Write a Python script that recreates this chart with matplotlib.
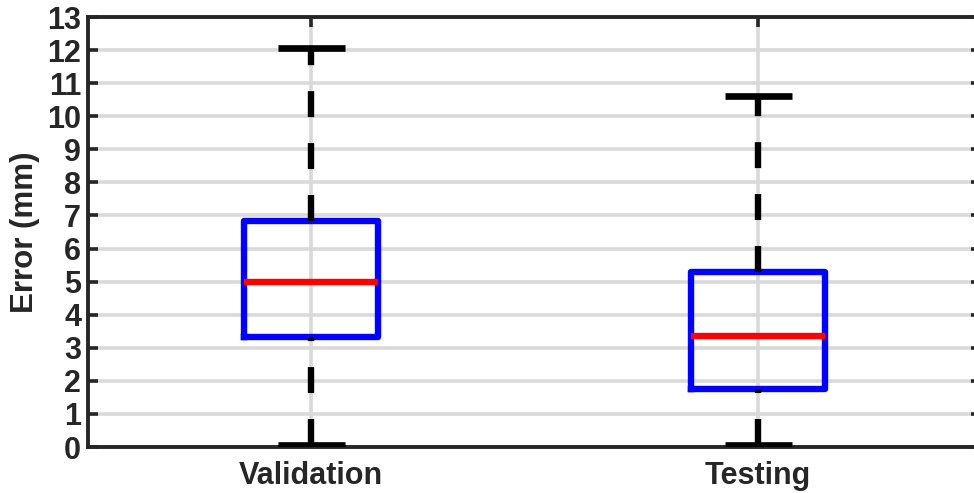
import matplotlib.pyplot as plt

# Error statistics (mm) for each data split
groups = ['Validation', 'Testing']
q1 = [3.33, 1.75]
medians = [4.99, 3.36]
q3 = [6.83, 5.29]
whisker_low = [0.06, 0.06]
whisker_high = [12.06, 10.62]
yticks = list(range(0, 14))

plt.rcParams['font.family'] = ['Liberation Sans', 'DejaVu Sans']
plt.rcParams['font.weight'] = 'bold'
plt.rcParams['lines.scale_dashes'] = False

dark = '#262626'
fig = plt.figure(figsize=(9.74, 4.93), dpi=100)
ax = fig.add_axes([0.0903, 0.0933, 0.9173, 0.8722])

stats = []
for i, name in enumerate(groups):
    stats.append({'label': name, 'q1': q1[i], 'med': medians[i], 'q3': q3[i],
                  'whislo': whisker_low[i], 'whishi': whisker_high[i], 'fliers': []})

bp = ax.bxp(stats, positions=[1, 2], widths=0.3, showfliers=False,
            boxprops=dict(color='#0000ff', linewidth=4.6),
            medianprops=dict(color='#ff0000', linewidth=4.6, solid_capstyle='butt'),
            whiskerprops=dict(color='black', linewidth=4.6, linestyle=(0, (18.7, 18.7))),
            capprops=dict(color='black', linewidth=4.8, solid_capstyle='butt'),
            capwidths=0.15, zorder=3)

# lower whiskers are dashed from the cap up to the box
for k in range(0, len(bp['whiskers']), 2):
    w = bp['whiskers'][k]
    w.set_ydata(list(w.get_ydata())[::-1])
    w.set_xdata(list(w.get_xdata())[::-1])

ax.set_xlim(0.5, 2.5)
ax.set_ylim(0, 13)
ax.set_yticks(yticks)
ax.set_xticks([1, 2])
ax.set_xticklabels(groups)
ax.grid(True, color='#d9d9d9', linewidth=2.6, zorder=0)
ax.set_axisbelow(True)

ax.tick_params(axis='both', direction='in', length=7, width=2.6, color=dark,
               labelcolor=dark, labelsize=22, top=True, right=True)
ax.tick_params(axis='x', pad=10)
ax.tick_params(axis='y', pad=5)
for s in ax.spines.values():
    s.set_linewidth(2.8)
    s.set_color(dark)

ax.set_ylabel('Error (mm)', fontsize=22.5, fontweight='bold', color=dark, labelpad=5)

fig.savefig('out.png', dpi=100)
